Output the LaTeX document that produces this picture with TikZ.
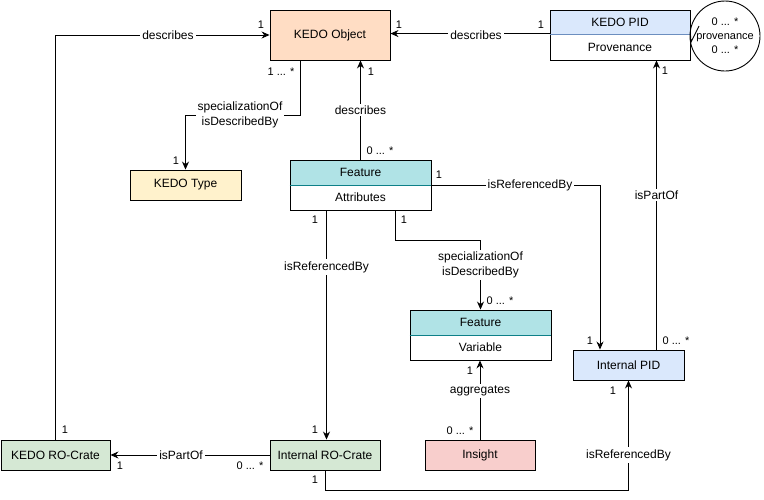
\documentclass[tikz,border=0pt]{standalone}
\usepackage{fontspec}
\setmainfont{Liberation Sans}
\usetikzlibrary{arrows.meta}
\definecolor{objfill}{HTML}{FFDDC4}
\definecolor{typefill}{HTML}{FFF2CC}
\definecolor{pidfill}{HTML}{DAE8FC}
\definecolor{featfill}{HTML}{B0E3E6}
\definecolor{cratefill}{HTML}{D5E8D4}
\definecolor{insightfill}{HTML}{F8CECC}
\definecolor{piddiv}{HTML}{6C8EBF}
\definecolor{featdiv}{HTML}{0E8088}
\begin{document}
\begin{tikzpicture}[x=1pt,y=-1pt,line width=0.9pt,
  box/.style={draw,line width=0.9pt,inner sep=0pt,minimum height=30pt,font=\fontsize{12}{14}\selectfont},
  lbl/.style={fill=white,inner sep=2pt,align=center,font=\fontsize{12}{15}\selectfont},
  mult/.style={inner sep=0pt,font=\fontsize{11}{13}\selectfont},
  arr/.style={-{Stealth[length=8pt,width=7pt]},line width=0.9pt}]
\useasboundingbox (0,0) rectangle (764,499);
% nodes
\node[box,fill=objfill,minimum width=120pt,minimum height=50pt] (obj) at (330,35) {KEDO Object};
\node[box,fill=pidfill,minimum width=140pt,minimum height=24pt] (pidh) at (620,22) {KEDO PID};
\node[box,minimum width=140pt,minimum height=26pt] (pidb) at (620,47) {Provenance};
\draw[piddiv,line width=1.2pt] (pidh.south west) -- (pidh.south east);
\node[box,fill=typefill,minimum width=111pt] (ktype) at (185.5,185) {KEDO Type};
\node[box,fill=featfill,minimum width=141pt,minimum height=25pt] (feath) at (360.5,172.5) {Feature};
\node[box,minimum width=141pt,minimum height=25pt] (featb) at (360.5,197.5) {Attributes};
\draw[featdiv,line width=1.2pt] (feath.south west) -- (feath.south east);
\node[box,fill=featfill,minimum width=141pt,minimum height=25pt] (varh) at (480.5,322.5) {Feature};
\node[box,minimum width=141pt,minimum height=25pt] (varb) at (480.5,347.5) {Variable};
\draw[featdiv,line width=1.2pt] (varh.south west) -- (varh.south east);
\node[box,fill=pidfill,minimum width=111pt] (intpid) at (628.5,365) {Internal PID};
\node[box,fill=cratefill,minimum width=109pt] (rocrate) at (55.5,455) {KEDO RO-Crate};
\node[box,fill=cratefill,minimum width=110pt] (introcrate) at (325,455) {Internal RO-Crate};
\node[box,fill=insightfill,minimum width=110pt] (insight) at (480,455) {Insight};
\node[draw,circle,line width=0.9pt,minimum size=70pt,inner sep=0pt,align=center,
      font=\fontsize{11}{14}\selectfont] (prov) at (725,36) {0 ... *\\provenance\\0 ... *};
\draw[line width=0.9pt] (pidh.south east) -- (691,42) -- (699,26);
% connectors
\draw[arr] (rocrate.north) |- (obj.west);
\node[lbl] (l1) at (168,35) {describes};
\draw[arr] (pidb.north west) -- (obj.east |- pidb.north west);
\node[lbl] (l2) at (476,35) {describes};
\draw[arr] ([xshift=-30pt]obj.south) -- ++(0,55) -| (ktype.north);
\node[lbl] (l3) at (240,115) {specializationOf\\isDescribedBy};
\draw[arr] (feath.north) -- (feath.north |- obj.south);
\node[lbl] (l4) at (360.5,110) {describes};
\draw[arr] (feath.south east) -| ([xshift=-28.5pt]intpid.north);
\node[lbl] (l5) at (530,185) {isReferencedBy};
\draw[arr] ([xshift=28pt]intpid.north) -- ([xshift=28pt]intpid.north |- pidb.south);
\node[lbl] (l6) at (656.5,195) {isPartOf};
\draw[arr] ([xshift=-34pt]featb.south) -- ([xshift=-34pt]featb.south |- introcrate.north);
\node[lbl] (l7) at (326.5,267) {isReferencedBy};
\draw[arr] ([xshift=34.5pt]featb.south) -- ++(0,30) -| (varh.north);
\node[lbl] (l8) at (480.5,265) {specializationOf\\isDescribedBy};
\draw[arr] (insight.north) -- (insight.north |- varb.south);
\node[lbl] (l9) at (480,391) {aggregates};
\draw[arr] (introcrate.west) -- (rocrate.east);
\node[lbl] (l10) at (181,455) {isPartOf};
\draw[arr] (introcrate.south) -- ++(0,20) -| (intpid.south);
\node[lbl] (l11) at (628.5,455) {isReferencedBy};
% multiplicities
\node[mult] (m1) at (261,25) {1};
\node[mult] (m2) at (65,430) {1};
\node[mult] (m3) at (399,25) {1};
\node[mult] (m4) at (541,25) {1};
\node[mult] (m5) at (281,72) {1 ... *};
\node[mult] (m6) at (371,72) {1};
\node[mult] (m7) at (380,151) {0 ... *};
\node[mult] (m8) at (176,161) {1};
\node[mult] (m9) at (439,175) {1};
\node[mult] (m10) at (315,220) {1};
\node[mult] (m11) at (404,220) {1};
\node[mult] (m12) at (500,301) {0 ... *};
\node[mult] (m13) at (590,341) {1};
\node[mult] (m14) at (676,341) {0 ... *};
\node[mult] (m15) at (665,71) {1};
\node[mult] (m16) at (470,371) {1};
\node[mult] (m17) at (460,431) {0 ... *};
\node[mult] (m18) at (613,391) {1};
\node[mult] (m19) at (120,466) {1};
\node[mult] (m20) at (250,466) {0 ... *};
\node[mult] (m21) at (315,430) {1};
\node[mult] (m22) at (315,480) {1};
\end{tikzpicture}
\end{document}
